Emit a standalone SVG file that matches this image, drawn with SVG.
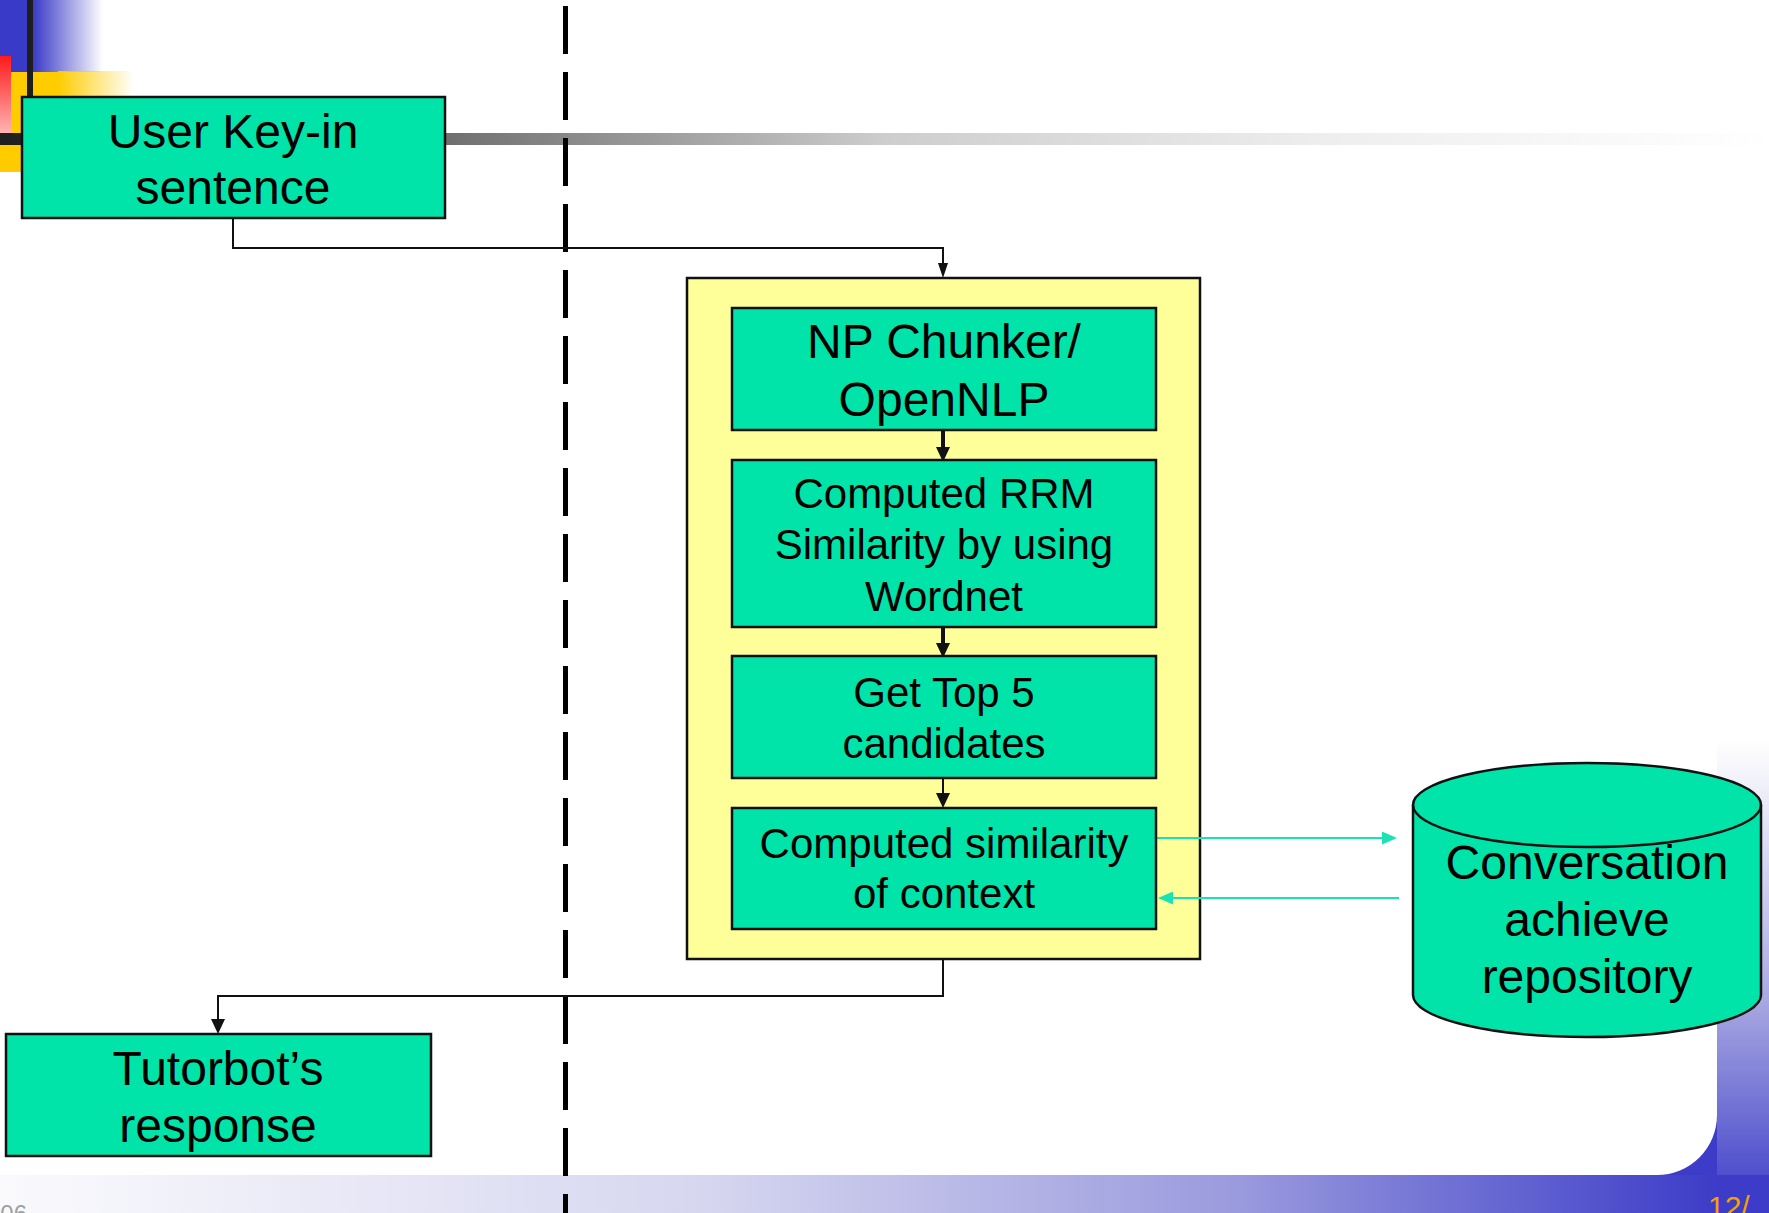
<svg xmlns="http://www.w3.org/2000/svg" width="1769" height="1213" viewBox="0 0 1769 1213">
<defs>
<style>
.node{fill:#00e4aa;stroke:#111;stroke-width:2.5}
.box{fill:#ffff99;stroke:#111;stroke-width:2.5}
.t{font-family:"Liberation Sans",Arial,sans-serif;fill:#000;text-anchor:middle}
.t48{font-size:48px}
.t42{font-size:42px}
.con{fill:none;stroke:#111;stroke-width:2}
.thick{stroke-width:4}
.cy{fill:none;stroke:#19e3b4;stroke-width:2}
</style>
<linearGradient id="gBlue" x1="0" y1="0" x2="1" y2="0">
<stop offset="0" stop-color="#3a3ac8"/><stop offset="1" stop-color="#3a3ac8" stop-opacity="0"/>
</linearGradient>
<linearGradient id="gYel" x1="0" y1="0" x2="1" y2="0">
<stop offset="0" stop-color="#ffcc00"/><stop offset="1" stop-color="#ffcc00" stop-opacity="0"/>
</linearGradient>
<linearGradient id="gRed" x1="0" y1="0" x2="0" y2="1">
<stop offset="0" stop-color="#ff1a1a"/><stop offset="1" stop-color="#ffb8b8"/>
</linearGradient>
<linearGradient id="gGray" gradientUnits="userSpaceOnUse" x1="0" y1="0" x2="1769" y2="0">
<stop offset="0" stop-color="#1e1e1e"/><stop offset="0.25" stop-color="#6e6e6e"/><stop offset="0.5" stop-color="#cdcdcd"/><stop offset="0.75" stop-color="#eeeeee"/><stop offset="1" stop-color="#ffffff"/>
</linearGradient>
<linearGradient id="gBottom" gradientUnits="userSpaceOnUse" x1="0" y1="0" x2="1769" y2="0">
<stop offset="0" stop-color="#fafafd"/><stop offset="0.4" stop-color="#d6d6f0"/><stop offset="0.7" stop-color="#9a9ade"/><stop offset="0.97" stop-color="#3c3cc8"/><stop offset="1" stop-color="#3c3cc8"/>
</linearGradient>
<linearGradient id="gRight" gradientUnits="userSpaceOnUse" x1="0" y1="740" x2="0" y2="1213">
<stop offset="0" stop-color="#ffffff"/><stop offset="0.55" stop-color="#a8a8e2"/><stop offset="1" stop-color="#3c3cc8"/>
</linearGradient>
<marker id="arr" viewBox="0 0 15 14" refX="0" refY="7" markerWidth="15" markerHeight="14" markerUnits="userSpaceOnUse" orient="auto">
<path d="M0,0 L15,7 L0,14 z" fill="#111"/>
</marker>
<marker id="arrN" viewBox="0 0 15 10" refX="0" refY="5" markerWidth="15" markerHeight="10" markerUnits="userSpaceOnUse" orient="auto">
<path d="M0,0 L15,5 L0,10 z" fill="#111"/>
</marker>
<marker id="arrC" viewBox="0 0 15 13" refX="0" refY="6.5" markerWidth="15" markerHeight="13" markerUnits="userSpaceOnUse" orient="auto">
<path d="M0,0 L15,6.5 L0,13 z" fill="#19e3b4"/>
</marker>
</defs>

<rect x="0" y="0" width="1769" height="1213" fill="#ffffff"/>

<g id="background">
  <rect x="0" y="0" width="33" height="72" fill="#3a3ac8"/>
  <rect x="33" y="0" width="70" height="72" fill="url(#gBlue)"/>
  <rect x="58" y="71" width="76" height="101" fill="url(#gYel)"/>
  <rect x="0" y="72" width="58" height="100" fill="#ffcc00"/>
  <rect x="0" y="56" width="11" height="79" fill="url(#gRed)"/>
  <rect x="27" y="0" width="6" height="172" fill="#1e1e1e"/>
  <rect x="0" y="133" width="1769" height="12" fill="url(#gGray)"/>
  <rect x="1717" y="740" width="52" height="473" fill="url(#gRight)"/>
  <rect x="0" y="1175" width="1769" height="38" fill="url(#gBottom)"/>
  <path d="M1657,1175 A60,60 0 0 0 1717,1115 L1717,1175 Z" fill="#3c3cc8"/>
  <text x="27" y="1222" font-family="Liberation Sans,Arial,sans-serif" font-size="24" fill="#a0a0a0" text-anchor="end">06</text>
  <text x="1708" y="1217" font-family="Liberation Sans,Arial,sans-serif" font-size="30" fill="#f5a000">12/</text>
</g>

<g id="divider">
  <line x1="565.5" y1="6" x2="565.5" y2="1213" stroke="#000" stroke-width="5" stroke-dasharray="48 18"/>
</g>

<g id="container">
  <rect class="box" x="687" y="278" width="513" height="681"/>
</g>

<g id="connectors">
  <path class="con" d="M233,218 V248 H943 V263" marker-end="url(#arrN)"/>
  <path class="con thick" d="M943,430 V447" marker-end="url(#arr)"/>
  <path class="con thick" d="M943,627 V643" marker-end="url(#arr)"/>
  <path class="con" d="M943,778 V793" marker-end="url(#arr)"/>
  <path class="con" d="M943,959 V996 H218 V1019" marker-end="url(#arr)"/>
  <path class="cy" d="M1157,838 H1382" marker-end="url(#arrC)"/>
  <path class="cy" d="M1399,898 H1173" marker-end="url(#arrC)"/>
</g>

<g id="user">
  <rect class="node" x="22" y="97" width="423" height="121"/>
  <text class="t t48" x="233" y="148">User Key-in</text>
  <text class="t t48" x="233" y="204">sentence</text>
</g>

<g id="chunker">
  <rect class="node" x="732" y="308" width="424" height="122"/>
  <text class="t t48" x="944" y="358">NP Chunker/</text>
  <text class="t t48" x="944" y="416">OpenNLP</text>
</g>

<g id="rrm">
  <rect class="node" x="732" y="460" width="424" height="167"/>
  <text class="t t42" x="944" y="508">Computed RRM</text>
  <text class="t t42" x="944" y="559">Similarity by using</text>
  <text class="t t42" x="944" y="611">Wordnet</text>
</g>

<g id="top5">
  <rect class="node" x="732" y="656" width="424" height="122"/>
  <text class="t t42" x="944" y="707">Get Top 5</text>
  <text class="t t42" x="944" y="758">candidates</text>
</g>

<g id="context">
  <rect class="node" x="732" y="808" width="424" height="121"/>
  <text class="t t42" x="944" y="858">Computed similarity</text>
  <text class="t t42" x="944" y="908">of context</text>
</g>

<g id="repository">
  <path class="node" d="M1413,805 A174,42 0 0 1 1761,805 L1761,995 A174,42 0 0 1 1413,995 Z"/>
  <path d="M1413,805 A174,42 0 0 0 1761,805" fill="none" stroke="#111" stroke-width="2.5"/>
  <text class="t t48" x="1587" y="879">Conversation</text>
  <text class="t t48" x="1587" y="936">achieve</text>
  <text class="t t48" x="1587" y="993">repository</text>
</g>

<g id="tutorbot">
  <rect class="node" x="6" y="1034" width="425" height="122"/>
  <text class="t t48" x="218" y="1085">Tutorbot’s</text>
  <text class="t t48" x="218" y="1142">response</text>
</g>
</svg>
